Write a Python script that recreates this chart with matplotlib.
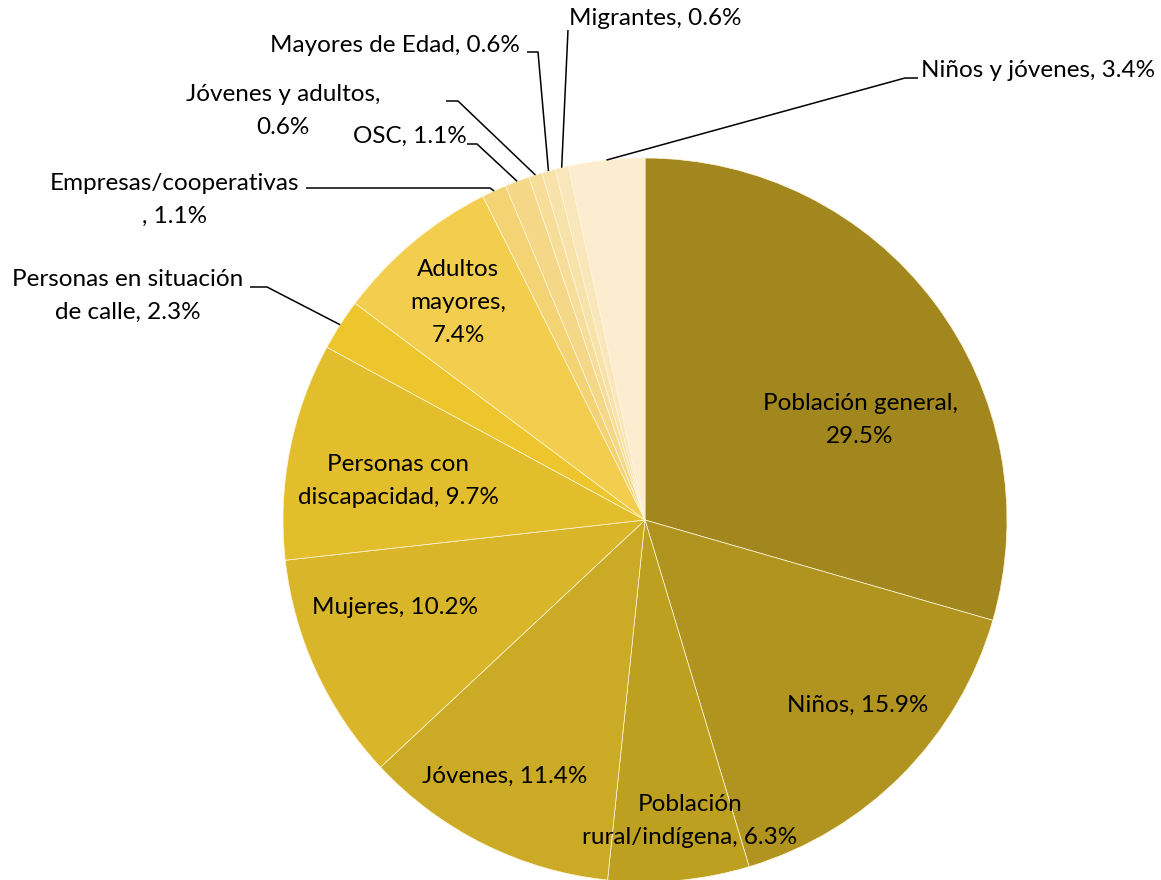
import numpy as np
import matplotlib
matplotlib.use("Agg")
import matplotlib.pyplot as plt

plt.rcParams["font.family"] = ["Lato", "DejaVu Sans"]

W, H = 1161, 880

# ── data (clockwise from 12 o'clock) ──
labels = [
    "Población general", "Niños", "Población rural/indígena", "Jóvenes",
    "Mujeres", "Personas con discapacidad", "Personas en situación de calle",
    "Adultos mayores", "Empresas/cooperativas", "OSC", "Jóvenes y adultos",
    "Mayores de Edad", "Migrantes", "Niños y jóvenes",
]
values = [29.5, 15.9, 6.3, 11.4, 10.2, 9.7, 2.3, 7.4, 1.1, 1.1, 0.6, 0.6, 0.6, 3.4]
colors = [
    "#A2871E", "#B0941F", "#BEA021", "#CBAA25", "#D9B52A", "#E3BE2C", "#EDC62E",
    "#F3CE4E", "#F3D374", "#F4D888", "#F6DD99", "#F7E2AA", "#F9E6BA", "#FCECD0",
]

# label text as drawn (line breaks like the original)
texts = [
    "Población general,\n29.5%", "Niños, 15.9%", "Población\nrural/indígena, 6.3%",
    "Jóvenes, 11.4%", "Mujeres, 10.2%", "Personas con\ndiscapacidad, 9.7%",
    "Personas en situación\nde calle, 2.3%", "Adultos\nmayores,\n7.4%",
    "Empresas/cooperativas\n, 1.1%", "OSC, 1.1%", "Jóvenes y adultos,\n0.6%",
    "Mayores de Edad, 0.6%", "Migrantes, 0.6%", "Niños y jóvenes, 3.4%",
]

# layout (pixels, y measured from top)
CX, CY, R = 645, 520, 362
LINE = 33
text_pos = [
    (860, 420), (858, 705), (690, 821), (505, 776), (395, 608), (398, 481),
    (128, 296), (458, 302), (175, 200), (410, 136), (283, 111), (395, 45),
    (655, 18), (1038, 70),
]
# leader lines for outside labels: (start, elbow), end is on the wedge edge
leaders = {
    6: ((250, 287), (267, 287)),
    8: ((306, 188), (490, 188)),
    9: ((467, 144), (477, 144)),
    10: ((446, 101), (458, 101)),
    11: ((527, 52), (538, 52)),
    12: ((568, 30), (568, 30)),
    13: ((918, 78), (905, 78)),
}

fig = plt.figure(figsize=(W / 100, H / 100), dpi=100, facecolor="white")
ax = fig.add_axes([0, 0, 1, 1])

wedges, _ = ax.pie(
    values, colors=colors, startangle=90, counterclock=False,
    center=(CX, H - CY), radius=R, frame=True,
    wedgeprops=dict(edgecolor="#FFF6DC", linewidth=0.5),
)
ax.set_xlim(0, W)
ax.set_ylim(0, H)
ax.set_aspect("equal")
ax.axis("off")

for i, (w, t) in enumerate(zip(wedges, texts)):
    tx, ty = text_pos[i]
    rows = t.split("\n")
    for k, row in enumerate(rows):
        y = ty + (k - (len(rows) - 1) / 2) * LINE
        ax.text(tx, H - y, row, ha="center", va="center", fontsize=17.5,
                color="#000000")
    if i in leaders:
        mid = np.deg2rad((w.theta1 + w.theta2) / 2)
        ex = CX + R * np.cos(mid)
        ey = CY - R * np.sin(mid)
        (sx, sy), (bx, by) = leaders[i]
        ax.plot([sx, bx, ex], [H - sy, H - by, H - ey],
                color="#000000", lw=1.1, solid_capstyle="butt")

fig.savefig("out.png", dpi=100, facecolor="white")
